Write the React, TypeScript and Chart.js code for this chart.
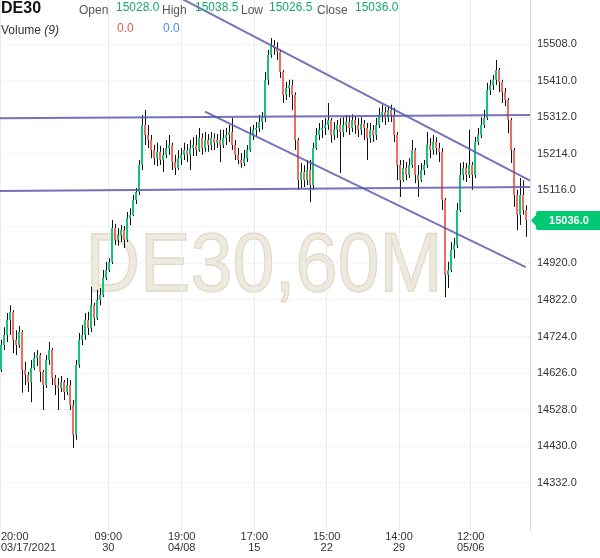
import React, { useEffect, useRef } from 'react';
import { Chart, registerables } from 'chart.js';

Chart.register(...registerables);

// ---- Data (DE30, 60M candles, aggregated) ----
const OPEN = [
  14634, 14701, 14728, 14768, 14790, 14715, 14701, 14736, 14634, 14621,
  14602, 14640, 14666, 14674, 14629, 14594, 14661, 14688, 14613, 14594,
  14586, 14602, 14575, 14594, 14540, 14460, 14648, 14715, 14728, 14768,
  14747, 14808, 14773, 14822, 14835, 14881, 14902, 14924, 15015, 14983,
  14996, 15009, 14983, 15042, 15050, 15090, 15111, 15184, 15291, 15264,
  15251, 15224, 15202, 15219, 15197, 15211, 15229, 15237, 15192, 15176,
  15202, 15211, 15224, 15211, 15229, 15237, 15224, 15256, 15229, 15251,
  15237, 15256, 15243, 15251, 15237, 15256, 15264, 15272, 15237, 15211,
  15197, 15189, 15202, 15224, 15264, 15278, 15283, 15299, 15310, 15412,
  15479, 15505, 15497, 15487, 15433, 15371, 15390, 15398, 15371, 15251,
  15143, 15165, 15143, 15170, 15130, 15229, 15264, 15278, 15283, 15291,
  15304, 15264, 15278, 15291, 15272, 15291, 15299, 15283, 15304, 15291,
  15278, 15294, 15283, 15256, 15278, 15264, 15291, 15318, 15326, 15310,
  15331, 15318, 15264, 15184, 15143, 15176, 15157, 15184, 15224, 15157,
  15143, 15170, 15184, 15237, 15224, 15245, 15229, 15219, 15090, 14889,
  14902, 14956, 14969, 15063, 15157, 15176, 15157, 15184, 15157, 15245,
  15264, 15291, 15310, 15385, 15398, 15412, 15438, 15406, 15379, 15358,
  15304, 15224, 15103, 15050, 15103, 15063,
];
const HIGH = [
  14715, 14749, 14787, 14808, 14795, 14741, 14752, 14741, 14656, 14629,
  14661, 14682, 14688, 14680, 14634, 14674, 14709, 14693, 14621, 14613,
  14618, 14607, 14613, 14607, 14554, 14661, 14733, 14755, 14787, 14790,
  14857, 14814, 14849, 14854, 14902, 14924, 14934, 15036, 15026, 15015,
  15023, 15020, 15058, 15068, 15103, 15122, 15197, 15318, 15331, 15291,
  15264, 15237, 15243, 15235, 15229, 15251, 15264, 15243, 15211, 15224,
  15229, 15243, 15240, 15251, 15259, 15264, 15283, 15269, 15272, 15267,
  15272, 15269, 15267, 15278, 15278, 15283, 15291, 15310, 15251, 15229,
  15216, 15224, 15237, 15286, 15291, 15299, 15318, 15326, 15433, 15492,
  15524, 15519, 15513, 15492, 15438, 15406, 15412, 15412, 15379, 15256,
  15189, 15184, 15197, 15197, 15243, 15283, 15296, 15304, 15310, 15350,
  15310, 15299, 15304, 15310, 15312, 15318, 15315, 15320, 15315, 15310,
  15312, 15304, 15296, 15296, 15291, 15310, 15337, 15345, 15339, 15342,
  15345, 15337, 15272, 15197, 15197, 15192, 15202, 15251, 15229, 15184,
  15189, 15197, 15272, 15256, 15264, 15259, 15243, 15229, 15095, 14924,
  14977, 14988, 15082, 15189, 15192, 15189, 15278, 15192, 15259, 15283,
  15312, 15331, 15404, 15412, 15425, 15465, 15444, 15412, 15390, 15363,
  15310, 15229, 15117, 15149, 15143, 15076,
];
const LOW = [
  14629, 14688, 14709, 14728, 14680, 14674, 14693, 14573, 14594, 14575,
  14548, 14634, 14645, 14602, 14527, 14586, 14648, 14594, 14567, 14527,
  14575, 14554, 14567, 14527, 14425, 14447, 14640, 14701, 14715, 14728,
  14736, 14752, 14768, 14808, 14830, 14875, 14897, 14918, 14969, 14967,
  14977, 14961, 14977, 15023, 15047, 15079, 15103, 15170, 15237, 15229,
  15202, 15184, 15181, 15184, 15165, 15202, 15211, 15170, 15157, 15170,
  15184, 15197, 15192, 15170, 15208, 15208, 15219, 15211, 15219, 15219,
  15224, 15224, 15229, 15192, 15229, 15237, 15245, 15224, 15197, 15186,
  15176, 15181, 15192, 15219, 15251, 15261, 15272, 15278, 15299, 15398,
  15471, 15479, 15465, 15417, 15350, 15358, 15366, 15331, 15224, 15117,
  15122, 15125, 15130, 15084, 15117, 15224, 15251, 15256, 15264, 15278,
  15243, 15251, 15256, 15162, 15259, 15272, 15264, 15272, 15267, 15259,
  15264, 15251, 15197, 15243, 15245, 15251, 15283, 15299, 15291, 15299,
  15299, 15245, 15143, 15098, 15138, 15143, 15149, 15176, 15135, 15098,
  15138, 15157, 15176, 15202, 15211, 15211, 15192, 15063, 14830, 14854,
  14897, 14934, 14961, 15058, 15143, 15138, 15149, 15117, 15149, 15237,
  15256, 15283, 15304, 15371, 15385, 15398, 15379, 15350, 15342, 15269,
  15189, 15071, 15009, 15023, 15050, 14991,
];
const CLOSE = [
  14701, 14728, 14768, 14790, 14715, 14701, 14736, 14634, 14621, 14602,
  14640, 14666, 14674, 14629, 14594, 14661, 14688, 14613, 14594, 14586,
  14602, 14575, 14594, 14540, 14460, 14648, 14715, 14728, 14768, 14747,
  14808, 14773, 14822, 14835, 14881, 14902, 14924, 15015, 14983, 14996,
  15009, 14983, 15042, 15050, 15090, 15111, 15184, 15291, 15264, 15251,
  15224, 15202, 15219, 15197, 15211, 15229, 15237, 15192, 15176, 15202,
  15211, 15224, 15211, 15229, 15237, 15224, 15256, 15229, 15251, 15237,
  15256, 15243, 15251, 15237, 15256, 15264, 15272, 15237, 15211, 15197,
  15189, 15202, 15224, 15264, 15278, 15283, 15299, 15310, 15412, 15479,
  15505, 15497, 15487, 15433, 15371, 15390, 15398, 15371, 15251, 15143,
  15165, 15143, 15170, 15130, 15229, 15264, 15278, 15283, 15291, 15304,
  15264, 15278, 15291, 15272, 15291, 15299, 15283, 15304, 15291, 15278,
  15294, 15283, 15256, 15278, 15264, 15291, 15318, 15326, 15310, 15331,
  15318, 15264, 15184, 15143, 15176, 15157, 15184, 15224, 15157, 15143,
  15170, 15184, 15237, 15224, 15245, 15229, 15219, 15090, 14889, 14902,
  14956, 14969, 15063, 15157, 15176, 15157, 15184, 15157, 15245, 15264,
  15291, 15310, 15385, 15398, 15412, 15438, 15406, 15379, 15358, 15304,
  15224, 15103, 15050, 15103, 15063, 15036,
];

const PRICE_TICKS = [14332, 14430, 14528, 14626, 14724, 14822, 14920, 15018, 15116, 15214, 15312, 15410, 15508];
const PRICE_MIN = 14205.2;
const PRICE_MAX = 15626;

// time axis: positions expressed in bar index units
const BAR_MIN = -0.3333;
const BAR_MAX = 176.3333;
const TIME_TICK_BARS = [-0.33, 35.77, 60.23, 84.43, 108.57, 132.67, 156.57];
const TIME_TICK_TOP = ['20:00', '09:00', '19:00', '17:00', '15:00', '14:00', '12:00'];
const TIME_TICK_BOTTOM = ['03/17/2021', '30', '04/08', '15', '22', '29', '05/06'];

// trend lines (bar index, price)
const TREND_UPPER_H = [{ x: -0.33, y: 15309 }, { x: 176.33, y: 15318 }];
const TREND_LOWER_H = [{ x: -0.33, y: 15114 }, { x: 176.33, y: 15125 }];
const TREND_UPPER_D = [{ x: 56.33, y: 15646 }, { x: 176.33, y: 15142 }];
const TREND_LOWER_D = [{ x: 68.0, y: 15327 }, { x: 174.9, y: 14910 }];

const FAMILY = '"Liberation Sans", Arial, Helvetica, sans-serif';
const GREEN = '#14c47b';
const RED = '#f36a5e';
const WICK = '#111111';
const GRID = '#ececec';
const LINE_COLOR = 'rgba(85, 85, 172, 0.82)';
const TAG_GREEN = '#00c873';
const WICK_SHIFT = 1 / 6; // centres the 1px wick on a whole pixel column

const watermarkPlugin = {
  id: 'watermark',
  beforeDraw(chart: any) {
    const { ctx, chartArea } = chart;
    ctx.save();
    ctx.font = `84px ${FAMILY}`;
    ctx.textAlign = 'center';
    ctx.textBaseline = 'alphabetic';
    ctx.translate(chartArea.left + 264, chartArea.top + 291);
    ctx.scale(0.9, 1);
    ctx.fillStyle = '#eeeadf';
    ctx.fillText('DE30,60M', 0, 0);
    ctx.strokeStyle = '#e0dac8';
    ctx.lineWidth = 1.3;
    ctx.strokeText('DE30,60M', 0, 0);
    ctx.restore();
  },
};

const timeLabelPlugin = {
  id: 'timeLabels',
  afterDraw(chart: any) {
    const { ctx, chartArea } = chart;
    const xs = chart.scales.x;
    ctx.save();
    ctx.font = `11px ${FAMILY}`;
    ctx.fillStyle = '#333';
    ctx.textBaseline = 'middle';
    TIME_TICK_BARS.forEach((v, i) => {
      const px = xs.getPixelForValue(v);
      const w = Math.max(ctx.measureText(TIME_TICK_TOP[i]).width, ctx.measureText(TIME_TICK_BOTTOM[i]).width);
      let x = px;
      let align: CanvasTextAlign = 'center';
      if (px - w / 2 < chartArea.left) {
        align = 'left';
        x = chartArea.left + 1;
      }
      ctx.textAlign = align;
      ctx.fillText(TIME_TICK_TOP[i], x, chartArea.bottom + 7);
      ctx.fillText(TIME_TICK_BOTTOM[i], x, chartArea.bottom + 18);
    });
    ctx.restore();
  },
};

const priceTagPlugin = {
  id: 'priceTag',
  afterDraw(chart: any) {
    const { ctx, chartArea } = chart;
    const ys = chart.scales.y;
    const last = CLOSE[CLOSE.length - 1];
    const y = ys.getPixelForValue(last);
    const tip = chartArea.right + 1;
    const bx = tip + 5;
    const right = chart.width;
    const top = y - 9;
    const bottom = y + 10;
    const r = 2;
    ctx.save();
    ctx.fillStyle = TAG_GREEN;
    ctx.beginPath();
    ctx.moveTo(tip, y + 0.5);
    ctx.lineTo(bx, y - 5);
    ctx.lineTo(bx, top + r);
    ctx.quadraticCurveTo(bx, top, bx + r, top);
    ctx.lineTo(right, top);
    ctx.lineTo(right, bottom);
    ctx.lineTo(bx + r, bottom);
    ctx.quadraticCurveTo(bx, bottom, bx, bottom - r);
    ctx.lineTo(bx, y + 6);
    ctx.closePath();
    ctx.fill();
    ctx.fillStyle = '#ffffff';
    ctx.font = `bold 11px ${FAMILY}`;
    ctx.textAlign = 'center';
    ctx.textBaseline = 'middle';
    ctx.fillText(last.toFixed(1), (bx + right) / 2 + 1, y + 1);
    ctx.restore();
  },
};

export default function App() {
  const canvasRef = useRef<HTMLCanvasElement>(null);

  useEffect(() => {
    if (!canvasRef.current) return;
    const wicks = CLOSE.map((_, i) => ({ x: i + WICK_SHIFT, y: [LOW[i], HIGH[i]] }));
    const bodies = CLOSE.map((c, i) => ({ x: i, y: [OPEN[i], c] }));
    const bodyColors = CLOSE.map((c, i) => (c >= OPEN[i] ? GREEN : RED));
    const lastClose = CLOSE[CLOSE.length - 1];

    const lineDs = (data: any) => ({
      type: 'line',
      data,
      borderColor: LINE_COLOR,
      borderWidth: 2,
      pointRadius: 0,
      fill: false,
      tension: 0,
      order: 0,
    });

    const chart = new Chart(canvasRef.current, {
      type: 'bar',
      data: {
        datasets: [
          lineDs(TREND_UPPER_H),
          lineDs(TREND_LOWER_H),
          lineDs(TREND_UPPER_D),
          lineDs(TREND_LOWER_D),
          {
            type: 'bar',
            data: bodies,
            backgroundColor: bodyColors,
            borderWidth: 0,
            barThickness: 2,
            grouped: false,
            inflateAmount: 0,
            order: 1,
          },
          {
            type: 'bar',
            data: wicks,
            backgroundColor: WICK,
            borderWidth: 0,
            barThickness: 1,
            grouped: false,
            inflateAmount: 0,
            order: 2,
          },
        ] as any,
      },
      options: {
        animation: false,
        responsive: true,
        maintainAspectRatio: false,
        devicePixelRatio: 1,
        events: [],
        layout: { padding: 0 },
        plugins: { legend: { display: false }, tooltip: { enabled: false } },
        scales: {
          x: {
            type: 'linear',
            min: BAR_MIN,
            max: BAR_MAX,
            offset: false,
            grid: { offset: false, color: GRID, drawTicks: false },
            border: { display: false },
            ticks: { display: false },
            afterBuildTicks: (s: any) => {
              s.ticks = TIME_TICK_BARS.map((v) => ({ value: v }));
            },
            afterFit: (s: any) => {
              s.height = 28;
            },
          },
          y: {
            type: 'linear',
            position: 'right',
            min: PRICE_MIN,
            max: PRICE_MAX,
            grid: { color: GRID, drawTicks: false },
            border: { display: true, color: '#d6d6d6', dash: [2, 2] },
            ticks: {
              padding: 7,
              color: '#333',
              autoSkip: false,
              font: { size: 11, family: FAMILY },
              callback: (v: any) => (Math.abs(Number(v) - lastClose) < 30 ? '' : Number(v).toFixed(1)),
            },
            afterBuildTicks: (s: any) => {
              s.ticks = PRICE_TICKS.map((v) => ({ value: v }));
            },
            afterFit: (s: any) => {
              s.width = 70;
              s.paddingTop = 0;
              s.paddingBottom = 0;
            },
          },
        },
      } as any,
      plugins: [watermarkPlugin, timeLabelPlugin, priceTagPlugin],
    });
    return () => chart.destroy();
  }, []);

  const label: React.CSSProperties = { position: 'absolute', top: 3, fontSize: 12, lineHeight: '14px', color: '#555', whiteSpace: 'nowrap' };
  const value: React.CSSProperties = { position: 'absolute', top: 0, fontSize: 12, lineHeight: '14px', color: '#17a96e', whiteSpace: 'nowrap' };

  return (
    <div style={{ position: 'absolute', left: 0, top: 0, width: 600, height: 558, background: '#fff', fontFamily: FAMILY, overflow: 'hidden' }}>
      <canvas ref={canvasRef} />
      <div style={{ position: 'absolute', left: 0, top: 0, width: 600, height: 40, pointerEvents: 'none' }}>
        <span style={{ position: 'absolute', left: 1, top: -1, fontSize: 16, lineHeight: '18px', fontWeight: 'bold', color: '#111' }}>DE30</span>
        <span style={{ ...label, left: 79 }}>Open</span>
        <span style={{ ...value, left: 116 }}>15028.0</span>
        <span style={{ ...label, left: 162 }}>High</span>
        <span style={{ ...value, left: 195 }}>15038.5</span>
        <span style={{ ...label, left: 241 }}>Low</span>
        <span style={{ ...value, left: 269 }}>15026.5</span>
        <span style={{ ...label, left: 317 }}>Close</span>
        <span style={{ ...value, left: 355 }}>15036.0</span>
        <span style={{ ...label, left: 1, top: 23, color: '#333' }}>
          Volume <i>(9)</i>
        </span>
        <span style={{ ...value, left: 117, top: 20.5, color: '#e0605a' }}>0.0</span>
        <span style={{ ...value, left: 163, top: 20.5, color: '#4f8de6' }}>0.0</span>
      </div>
    </div>
  );
}
